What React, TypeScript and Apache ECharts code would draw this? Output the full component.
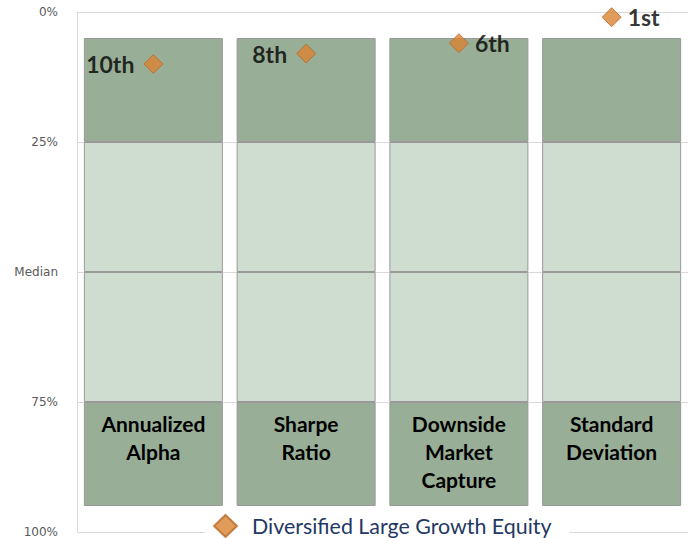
import React, { useEffect, useRef } from "react";
import * as echarts from "echarts";

const categories = ["Annualized\nAlpha", "Sharpe\nRatio", "Downside\nMarket\nCapture", "Standard\nDeviation"];
const bandBase = [5, 5, 5, 5];
const bandTop = [20, 20, 20, 20];
const bandUpperMid = [25, 25, 25, 25];
const bandLowerMid = [25, 25, 25, 25];
const bandBottom = [20, 20, 20, 20];
const fundRank = [10, 8, 6, 1];
const rankLabels = ["10th", "8th", "6th", "1st"];
const rankLabelSide = ["left", "left", "right", "right"];
const tickLabels: Record<number, string> = { 0: "0%", 25: "25%", 50: "Median", 75: "75%", 100: "100%" };
const seriesName = "Diversified Large Growth Equity";

const DARK = "#98AE97";
const LIGHT = "#CFDDD0";
const BORDER = "#999999";
const FONT = "Lato, 'Open Sans', sans-serif";

export default function App() {
  const ref = useRef<HTMLDivElement>(null);
  useEffect(() => {
    if (!ref.current) return;
    const chart = echarts.init(ref.current, null, { renderer: "svg" });
    const seg = (name: string, data: number[], color: string, extra: any = {}) => ({
      type: "bar",
      name,
      stack: "band",
      data,
      barWidth: "91%",
      silent: true,
      itemStyle: { color, borderColor: color === "transparent" ? "transparent" : BORDER, borderWidth: 1 },
      ...extra,
    });
    chart.setOption({
      animation: false,
      grid: { left: 77, right: 2, top: 12, bottom: 6 },
      legend: {
        data: [seriesName],
        left: 205,
        top: 512,
        backgroundColor: "#ffffff",
        padding: [2, 18, 2, 8],
        itemWidth: 23,
        itemHeight: 22,
        textStyle: { color: "#1F3864", fontSize: 21.4, fontFamily: FONT, padding: [0, 0, 0, 10] },
      },
      xAxis: {
        type: "category",
        data: categories,
        axisLine: { show: true, lineStyle: { color: "#D9D9D9" } },
        axisTick: { show: false },
        axisLabel: { show: false },
        splitLine: { show: false },
      },
      yAxis: {
        type: "value",
        inverse: true,
        min: 0,
        max: 100,
        interval: 25,
        axisLine: { show: true, lineStyle: { color: "#D9D9D9" } },
        axisTick: { show: false },
        splitLine: { show: true, lineStyle: { color: "#D9D9D9" } },
        axisLabel: {
          color: "#595959",
          fontSize: 12,
          fontFamily: "'DejaVu Sans', sans-serif",
          margin: 19,
          formatter: (v: number) => tickLabels[v] ?? "",
        },
      },
      series: [
        seg("base", bandBase, "transparent"),
        seg("top", bandTop, DARK),
        seg("upper", bandUpperMid, LIGHT),
        seg("lower", bandLowerMid, LIGHT),
        seg("bottom", bandBottom, DARK, {
          label: {
            show: true,
            position: "insideTop",
            distance: 7,
            formatter: (p: any) => categories[p.dataIndex],
            color: "#000000",
            fontSize: 21,
            fontWeight: "bold",
            fontFamily: FONT,
            lineHeight: 28,
            align: "center",
          },
        }),
        {
          type: "scatter",
          name: seriesName,
          symbol: "diamond",
          symbolSize: 19,
          z: 5,
          itemStyle: { color: "#D98232", borderColor: "#B86A28", borderWidth: 1 },
          data: fundRank.map((v, i) => ({
            value: v,
            label: {
              show: true,
              position: rankLabelSide[i],
              distance: rankLabelSide[i] === "left" ? 9 : 6,
              formatter: rankLabels[i],
              color: "#000000",
              fontSize: 23,
              fontWeight: "bold",
              fontFamily: FONT,
            },
          })),
        },
      ],
    });
    return () => chart.dispose();
  }, []);
  return <div ref={ref} style={{ position: "absolute", left: 0, top: 0, width: 690, height: 538 }} />;
}
